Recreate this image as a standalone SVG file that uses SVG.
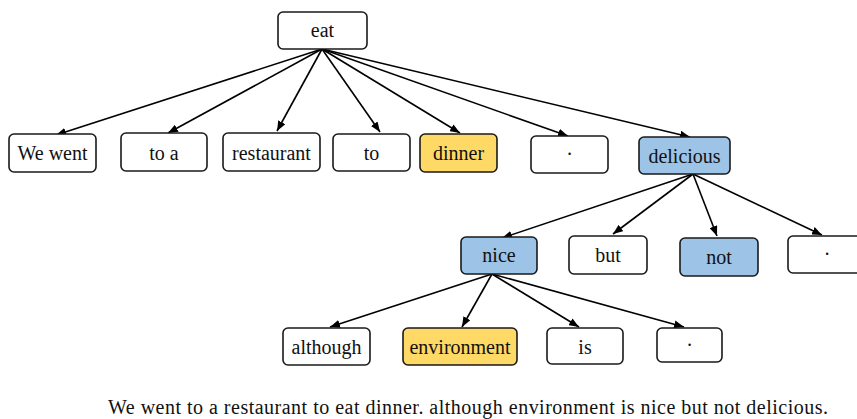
<svg xmlns="http://www.w3.org/2000/svg" width="857" height="419" viewBox="0 0 857 419" font-family="Liberation Serif, Tinos, Times New Roman, Times, DejaVu Serif, serif">
  <style>
    .box { fill: #ffffff; stroke: #1a1a1a; stroke-width: 1.6; }
    .gold { fill: #ffd966; }
    .blue { fill: #9dc3e6; }
    .lbl { font-size: 20px; fill: #111; text-anchor: middle; }
    .edge { stroke: #000; stroke-width: 1.6; fill: none; marker-end: url(#arrow); }
    .cap { font-size: 20px; fill: #111; }
  </style>
  <defs>
    <marker id="arrow" viewBox="0 0 10 8" refX="10" refY="4" markerWidth="10" markerHeight="8" markerUnits="userSpaceOnUse" orient="auto">
      <path d="M0,0 L10,4 L0,8 Z" fill="#000"/>
    </marker>
  </defs>

  <g id="connectors">
    <!-- eat -> first level -->
    <line class="edge" x1="322" y1="49" x2="56" y2="135"/>
    <line class="edge" x1="322" y1="49" x2="168" y2="133"/>
    <line class="edge" x1="322" y1="49" x2="277" y2="131"/>
    <line class="edge" x1="322" y1="49" x2="380" y2="132"/>
    <line class="edge" x1="322" y1="49" x2="460" y2="133"/>
    <line class="edge" x1="322" y1="49" x2="568" y2="136"/>
    <line class="edge" x1="322" y1="49" x2="690" y2="137"/>
    <!-- delicious -> second level -->
    <line class="edge" x1="693" y1="174" x2="502" y2="238"/>
    <line class="edge" x1="693" y1="174" x2="613" y2="234"/>
    <line class="edge" x1="693" y1="174" x2="717" y2="236"/>
    <line class="edge" x1="693" y1="174" x2="822" y2="235"/>
    <!-- nice -> third level -->
    <line class="edge" x1="492" y1="274" x2="330" y2="327"/>
    <line class="edge" x1="492" y1="274" x2="462" y2="327"/>
    <line class="edge" x1="492" y1="274" x2="579" y2="327"/>
    <line class="edge" x1="492" y1="274" x2="684" y2="327"/>
  </g>

  <g id="n-eat"><rect class="box" x="278" y="12" width="89" height="37" rx="5"/><text class="lbl" x="322.5" y="37">eat</text></g>

  <g id="n-we-went"><rect class="box" x="9" y="134" width="87" height="38" rx="5"/><text class="lbl" x="52.5" y="160">We went</text></g>
  <g id="n-to-a"><rect class="box" x="121" y="133" width="86" height="38" rx="5"/><text class="lbl" x="164" y="160">to a</text></g>
  <g id="n-restaurant"><rect class="box" x="223" y="133" width="97" height="38" rx="5"/><text class="lbl" x="271.5" y="160">restaurant</text></g>
  <g id="n-to"><rect class="box" x="333" y="134" width="77" height="37" rx="5"/><text class="lbl" x="371.5" y="160">to</text></g>
  <g id="n-dinner"><rect class="box gold" x="420" y="134" width="77" height="38" rx="5"/><text class="lbl" x="458.5" y="160">dinner</text></g>
  <g id="n-dot1"><rect class="box" x="531" y="136" width="77" height="37" rx="5"/><text class="lbl" x="569.5" y="161">·</text></g>
  <g id="n-delicious"><rect class="box blue" x="639" y="137" width="91" height="37" rx="5"/><text class="lbl" x="684.5" y="163">delicious</text></g>

  <g id="n-nice"><rect class="box blue" x="461" y="237" width="76" height="37" rx="5"/><text class="lbl" x="499" y="262">nice</text></g>
  <g id="n-but"><rect class="box" x="569" y="236" width="78" height="38" rx="5"/><text class="lbl" x="608" y="262">but</text></g>
  <g id="n-not"><rect class="box blue" x="680" y="238" width="78" height="38" rx="5"/><text class="lbl" x="719" y="264">not</text></g>
  <g id="n-dot2"><rect class="box" x="788" y="236" width="78" height="37" rx="5"/><text class="lbl" x="827" y="261">·</text></g>

  <g id="n-although"><rect class="box" x="283" y="328" width="87" height="37" rx="5"/><text class="lbl" x="326.5" y="354">although</text></g>
  <g id="n-environment"><rect class="box gold" x="403" y="328" width="114" height="37" rx="5"/><text class="lbl" x="460" y="354">environment</text></g>
  <g id="n-is"><rect class="box" x="547" y="328" width="76" height="36" rx="5"/><text class="lbl" x="585" y="354">is</text></g>
  <g id="n-dot3"><rect class="box" x="657" y="328" width="65" height="34" rx="5"/><text class="lbl" x="689.5" y="352">·</text></g>

  <text class="cap" x="108" y="414" textLength="720" lengthAdjust="spacing">We went to a restaurant to eat dinner. although environment is nice but not delicious.</text>
</svg>
